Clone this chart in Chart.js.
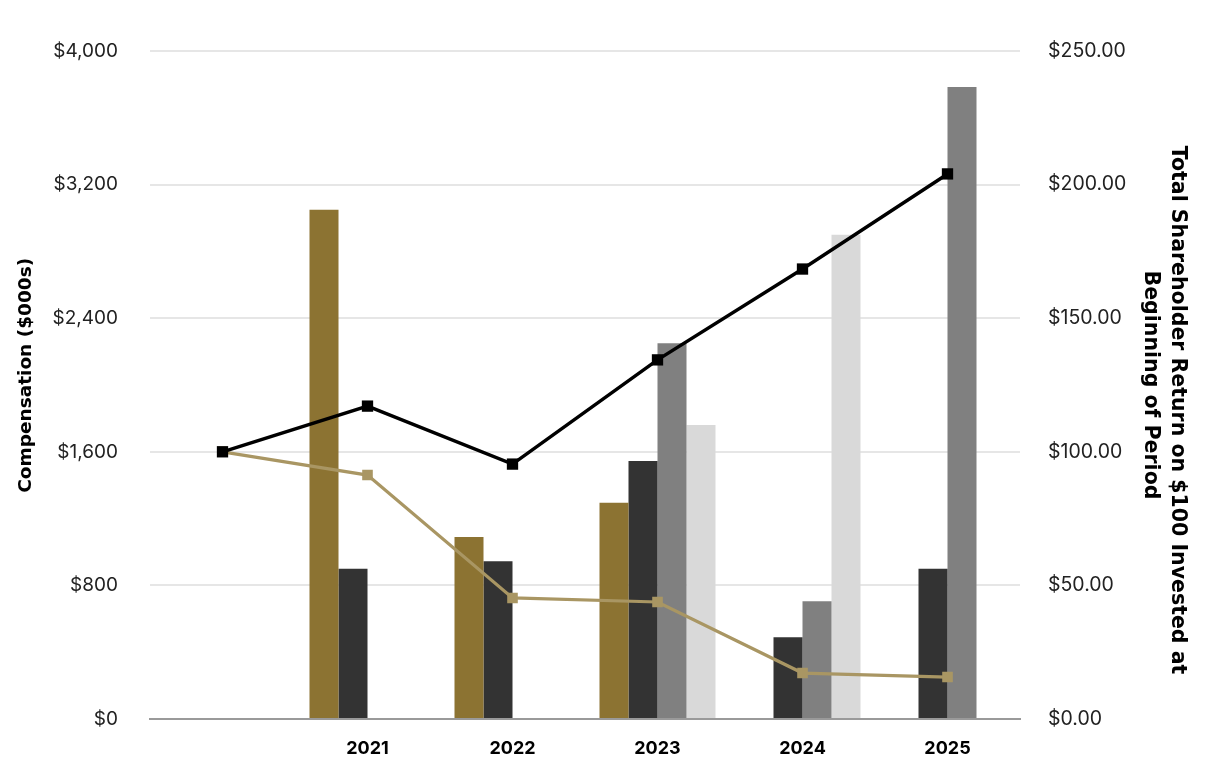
<!DOCTYPE html>
<html>
<head>
<meta charset="utf-8">
<script src="https://cdn.jsdelivr.net/npm/chart.js@4/dist/chart.umd.min.js"></script>
<style>
  html, body { margin: 0; padding: 0; background: #ffffff; }
  #wrap { width: 1208px; height: 768px; }
</style>
</head>
<body>
<div id="wrap"><canvas id="c" width="1208" height="768"></canvas></div>
<script>
// ---- data ----
const categories = ['', '2021', '2022', '2023', '2024', '2025'];
const compSeriesA = [null, 3050, 1090, 1295, null, null];   // gold bars
const compSeriesB = [null, 900, 945, 1545, 490, 900];        // dark bars
const compSeriesC = [null, null, null, 2250, 705, 3785];     // grey bars
const compSeriesD = [null, null, null, 1760, 2900, null];    // light grey bars
const tsrCompany = [100, 117.1, 95.4, 134.4, 168.4, 204.0];
const tsrPeer = [100, 91.3, 45.3, 43.8, 17.2, 15.7];
const leftTicks = [0, 800, 1600, 2400, 3200, 4000];
const rightTicks = [0, 50, 100, 150, 200, 250];

const FONT = 'Inter, "Open Sans", sans-serif';
const TITLE_FONT = '"DejaVu Sans", Inter, sans-serif';

new Chart(document.getElementById('c'), {
  data: {
    labels: categories,
    datasets: [
      { type: 'line', data: tsrCompany, yAxisID: 'yR', order: 0,
        borderColor: '#000000', backgroundColor: '#000000', borderWidth: 3.5,
        pointStyle: 'rect', pointRadius: 8, pointBorderWidth: 0, pointBackgroundColor: '#000000',
        tension: 0 },
      { type: 'line', data: tsrPeer, yAxisID: 'yR', order: 1,
        borderColor: '#A99663', backgroundColor: '#A99663', borderWidth: 3.2,
        pointStyle: 'rect', pointRadius: 7.5, pointBorderWidth: 0, pointBackgroundColor: '#A99663',
        tension: 0 },
      { type: 'bar', data: compSeriesA, yAxisID: 'yL', order: 2, backgroundColor: '#8C7332',
        barPercentage: 1, categoryPercentage: 0.8 },
      { type: 'bar', data: compSeriesB, yAxisID: 'yL', order: 2, backgroundColor: '#333333',
        barPercentage: 1, categoryPercentage: 0.8 },
      { type: 'bar', data: compSeriesC, yAxisID: 'yL', order: 2, backgroundColor: '#808080',
        barPercentage: 1, categoryPercentage: 0.8 },
      { type: 'bar', data: compSeriesD, yAxisID: 'yL', order: 2, backgroundColor: '#D9D9D9',
        barPercentage: 1, categoryPercentage: 0.8 }
    ]
  },
  options: {
    responsive: false,
    animation: false,
    layout: { padding: { top: 51, left: 0, right: 0, bottom: 0 } },
    plugins: { legend: { display: false }, tooltip: { enabled: false } },
    scales: {
      x: {
        offset: true,
        grid: { display: false },
        border: { display: true, color: '#9a9a9a', width: 2 },
        ticks: { color: '#000000', font: { family: FONT, size: 18, weight: 'bold' }, padding: 11, maxRotation: 0 },
        afterFit: (s) => { s.height = 49; }
      },
      yL: {
        position: 'left',
        min: 0, max: 4000,
        afterBuildTicks: (s) => { s.ticks = leftTicks.map(v => ({ value: v })); },
        grid: { color: '#e6e6e6', lineWidth: 2, drawTicks: false },
        border: { display: false },
        ticks: { color: '#222222', font: { family: FONT, size: 19 }, padding: 32,
          callback: (v) => '$' + Number(v).toLocaleString('en-US') },
        title: { display: true, text: '   Compensation ($000s)', color: '#000000',
          font: { family: TITLE_FONT, size: 18.5, weight: 'bold', lineHeight: 1.2 }, padding: { top: 15, bottom: 0 } },
        afterFit: (s) => { s.width = 150; }
      },
      yR: {
        position: 'right',
        min: 0, max: 250,
        afterBuildTicks: (s) => { s.ticks = rightTicks.map(v => ({ value: v })); },
        grid: { display: false, drawTicks: false },
        border: { display: false },
        ticks: { color: '#222222', font: { family: FONT, size: 19.5 }, padding: 28,
          callback: (v) => '$' + Number(v).toFixed(2) },
        title: { display: true, text: ['       Total Shareholder Return on $100 Invested at', 'Beginning of Period'], color: '#000000',
          font: { family: TITLE_FONT, size: 20.5, weight: 'bold', lineHeight: 1.33 }, padding: { top: 17, bottom: 0 } },
        afterFit: (s) => { s.width = 188; }
      }
    }
  }
});
</script>
</body>
</html>
